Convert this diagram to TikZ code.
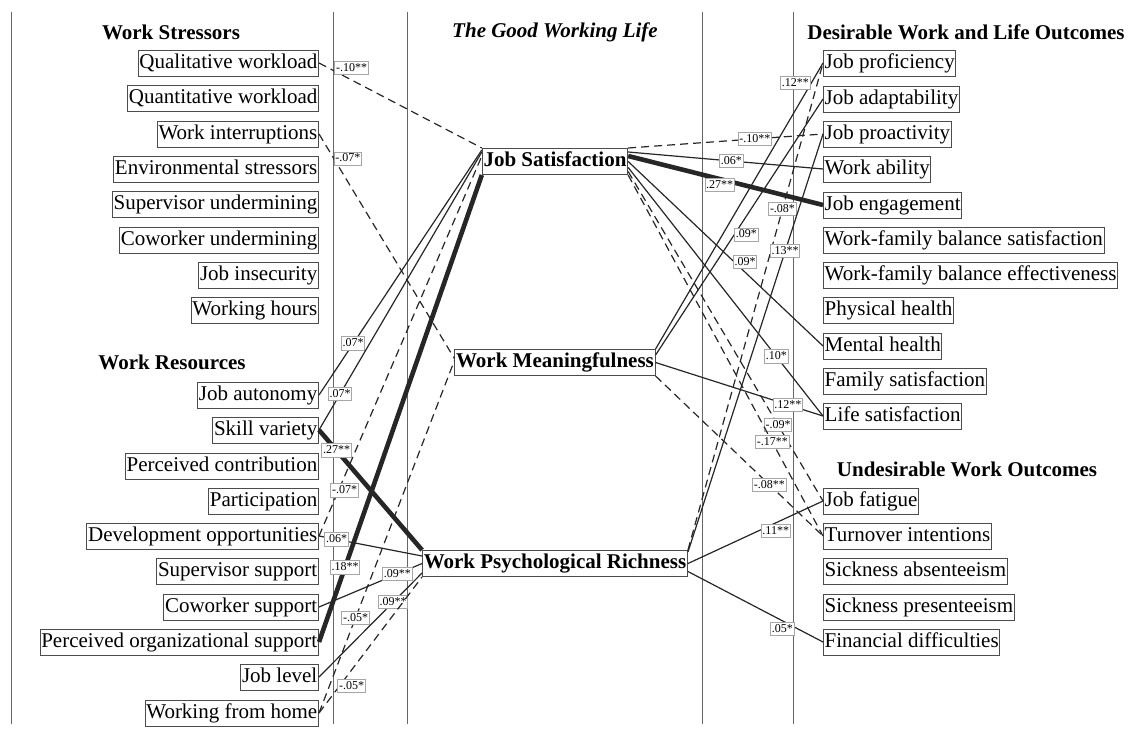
\documentclass[tikz,border=0pt]{standalone}
\usepackage{fontspec}
\setmainfont{Liberation Serif}
\usepackage{tikz}
\usetikzlibrary{positioning}

\begin{document}
\begin{tikzpicture}[x=0.5pt,y=-0.5pt,node distance=87pt]
 \tikzstyle{lbox}=[draw=black!70,line width=0.5pt,inner xsep=0.6pt,inner ysep=1.5pt,text height=7.6pt,text depth=2.4pt,font=\fontsize{10.5}{12}\selectfont]
 \tikzstyle{cbox}=[lbox,font=\fontsize{10.5}{12}\selectfont\bfseries]
 \tikzstyle{head}=[font=\fontsize{10.5}{12}\selectfont\bfseries]
 \tikzstyle{lab}=[draw=black!35,solid,line width=0.45pt,fill=white,inner sep=0.6pt,text height=4.4pt,text depth=1.1pt,font=\fontsize{6}{7}\selectfont]
 \tikzstyle{link}=[draw=black!85,line width=0.6pt]
 \tikzstyle{neg}=[link,dash pattern=on 4pt off 2.5pt]
 \tikzstyle{heavy}=[link,line width=2.3pt]
 \tikzstyle{divider}=[draw=black!60,line width=0.5pt]

   \useasboundingbox (0,0) rectangle (1134,734);

   \coordinate (d1t) at (11,12);   \coordinate (d1b) at (11,724);
   \coordinate (d2t) at (333,12);  \coordinate (d2b) at (333,724);
   \coordinate (d3t) at (407,12);  \coordinate (d3b) at (407,724);
   \coordinate (d4t) at (702,12);  \coordinate (d4b) at (702,724);
   \coordinate (d5t) at (793,12);  \coordinate (d5b) at (793,724);
   \draw[divider] (d1t) -- (d1b) (d2t) -- (d2b) (d3t) -- (d3b) (d4t) -- (d4b) (d5t) -- (d5b);

   \node[head] (hstr) at (171,32) {Work Stressors};
   \node[head] (hgwl) at (555,32) {\itshape The Good Working Life};
   \node[head] (hdes) at (966,32) {Desirable Work and Life Outcomes};
   \node[head] (hres) at (172,362) {Work Resources};
   \node[head] (hund) at (967,469) {Undesirable Work Outcomes};

   \node[lbox,anchor=east] (qlw)   at (319,63)  {Qualitative workload};
   \node[lbox,anchor=east] (qnw)   at (319,98)  {Quantitative workload};
   \node[lbox,anchor=east] (wint)  at (319,134) {Work interruptions};
   \node[lbox,anchor=east] (envs)  at (319,169) {Environmental stressors};
   \node[lbox,anchor=east] (supu)  at (319,204) {Supervisor undermining};
   \node[lbox,anchor=east] (cowu)  at (319,240) {Coworker undermining};
   \node[lbox,anchor=east] (jins)  at (319,275) {Job insecurity};
   \node[lbox,anchor=east] (whrs)  at (319,310) {Working hours};
   \node[lbox,anchor=east] (jaut)  at (319,395) {Job autonomy};
   \node[lbox,anchor=east] (skv)   at (319,430) {Skill variety};
   \node[lbox,anchor=east] (pcon)  at (319,466) {Perceived contribution};
   \node[lbox,anchor=east] (part)  at (319,501) {Participation};
   \node[lbox,anchor=east] (devo)  at (319,536) {Development opportunities};
   \node[lbox,anchor=east] (sups)  at (319,571) {Supervisor support};
   \node[lbox,anchor=east] (cows)  at (319,607) {Coworker support};
   \node[lbox,anchor=east] (posup) at (319,642) {Perceived organizational support};
   \node[lbox,anchor=east] (jlev)  at (319,677) {Job level};
   \node[lbox,anchor=east] (wfh)   at (319,713) {Working from home};

   \node[cbox] (js) at (555,161.5) {Job Satisfaction};
   \node[cbox] (wm)  [below=of js] {Work Meaningfulness};
   \node[cbox] (wpr) [below=of wm] {Work Psychological Richness};

   \node[lbox,anchor=west] (jpro) at (823,63)  {Job proficiency};
   \node[lbox,anchor=west] (jada) at (823,99)  {Job adaptability};
   \node[lbox,anchor=west] (jpac) at (823,134) {Job proactivity};
   \node[lbox,anchor=west] (wabl) at (823,169) {Work ability};
   \node[lbox,anchor=west] (jeng) at (823,205) {Job engagement};
   \node[lbox,anchor=west] (wfbs) at (823,240) {Work-family balance satisfaction};
   \node[lbox,anchor=west] (wfbe) at (823,275) {Work-family balance effectiveness};
   \node[lbox,anchor=west] (phh)  at (823,310) {Physical health};
   \node[lbox,anchor=west] (mnh)  at (823,346) {Mental health};
   \node[lbox,anchor=west] (fams) at (823,381) {Family satisfaction};
   \node[lbox,anchor=west] (lifs) at (823,416) {Life satisfaction};
   \node[lbox,anchor=west] (jfat) at (823,501) {Job fatigue};
   \node[lbox,anchor=west] (turn) at (823,536) {Turnover intentions};
   \node[lbox,anchor=west] (sabs) at (823,571) {Sickness absenteeism};
   \node[lbox,anchor=west] (spre) at (823,607) {Sickness presenteeism};
   \node[lbox,anchor=west] (fdif) at (823,642) {Financial difficulties};

   \path
   (qlw.east) edge[neg] node[lab,pos=.2,yshift=6pt] {-.10**} (js.north west)
   (wint.east) edge[neg] node[lab,pos=.11,xshift=7pt] {-.07*} ([yshift=2pt]wm.west)
   (jaut.east) edge[link] node[lab,pos=.21] {.07*} ([yshift=-1pt]js.north west)
   (skv.east) edge[link] node[lab,pos=.13] {.07*} ([yshift=-2pt]js.north west)
   (skv.east) edge[heavy] node[lab,pos=.17] {.27**} (wpr.north west)
   (devo.east) edge[neg] node[lab,pos=.12,xshift=3pt] {-.07*} ([yshift=-4pt]js.north west)
   (devo.east) edge[link] node[lab,pos=.17] {.06*} ([yshift=-3pt]wpr.north west)
   (posup.east) edge[heavy] node[lab,pos=.16] {.18**} (js.south west)
   (cows.east) edge[link] node[lab,pos=.76] {.09**} (wpr.west)
   (jlev.east) edge[link] node[lab,pos=.72] {.09**} ([yshift=2pt]wpr.south west)
   (wfh.east) edge[neg] node[lab,pos=.27] {-.05*} ([yshift=1pt]wm.west)
   (wfh.east) edge[neg] node[lab,pos=.2,xshift=6pt] {-.05*} (wpr.south west);

   \path
   (js.north east) edge[neg] node[lab,pos=.65] {-.10**} (jpac.west)
   ([yshift=-2pt]js.north east) edge[link] node[lab,pos=.53] {.06*} (wabl.west)
   ([yshift=-4pt]js.north east) edge[heavy] node[lab,pos=.47,yshift=-3pt] {.27**} (jeng.west)
   (js.east) edge[link] node[lab,pos=.6,yshift=5pt] {.09*} (mnh.west)
   ([yshift=-3pt]js.east) edge[link] node[lab,pos=.76] {.10*} (lifs.west)
   ([yshift=-5pt]js.east) edge[neg] node[lab,pos=.77] {-.09*} (jfat.west)
   (js.south east) edge[neg] node[lab,pos=.74] {-.17**} (turn.west)
   (wm.north east) edge[link] node[lab,pos=.93,xshift=-8pt] {.12**} (jpro.west)
   ([yshift=-3pt]wm.north east) edge[link] node[lab,pos=.47,xshift=6pt] {.09*} (jada.west)
   (wm.east) edge[link] node[lab,pos=.79] {.12**} (lifs.west)
   (wm.south east) edge[neg] node[lab,pos=.68] {-.08**} (turn.west)
   (wpr.north east) edge[neg] node[lab,pos=.7] {-.08*} (jpro.west)
   ([yshift=-1pt]wpr.north east) edge[link] node[lab,pos=.72] {.13**} (jpac.west)
   (wpr.east) edge[link] node[lab,pos=.65,yshift=-4pt] {.11**} (jfat.west)
   ([yshift=-4pt]wpr.east) edge[link] node[lab,pos=.7,yshift=-4pt] {.05*} (fdif.west);

\end{tikzpicture}
\end{document}
